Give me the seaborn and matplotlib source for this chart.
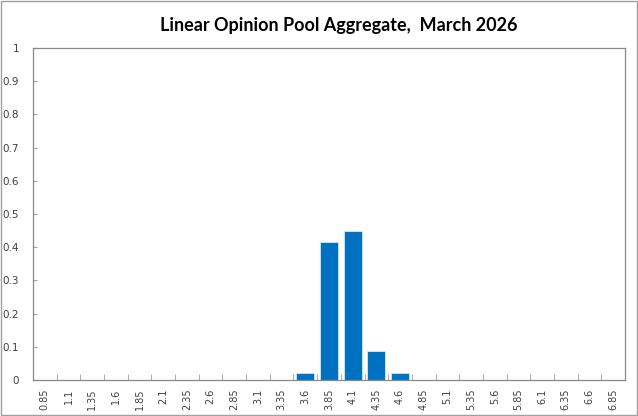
import numpy as np
import pandas as pd
import matplotlib
matplotlib.use("Agg")
import matplotlib.pyplot as plt
import seaborn as sns

# bin centres and pooled probabilities
bins = [0.85, 1.1, 1.35, 1.6, 1.85, 2.1, 2.35, 2.6, 2.85, 3.1, 3.35, 3.6,
        3.85, 4.1, 4.35, 4.6, 4.85, 5.1, 5.35, 5.6, 5.85, 6.1, 6.35, 6.6, 6.85]
probs = [0, 0, 0, 0, 0, 0, 0, 0, 0, 0, 0, 0.02,
         0.415, 0.448, 0.087, 0.02, 0, 0, 0, 0, 0, 0, 0, 0, 0]
labels = [f"{b:g}" for b in bins]
y_ticks = [0, 0.1, 0.2, 0.3, 0.4, 0.5, 0.6, 0.7, 0.8, 0.9, 1]

sns.set_style("white")
plt.rcParams['font.family'] = ['DejaVu Sans']

df = pd.DataFrame({'bin': labels, 'prob': probs})

fig = plt.figure(figsize=(6.38, 4.16), dpi=100)
ax = fig.add_axes([33 / 638, 1 - 380 / 416, (625 - 33) / 638, (380 - 48) / 416])

sns.barplot(data=df, x='bin', y='prob', order=labels, color='#0070C0',
            width=0.76, edgecolor='#d9e6f2', linewidth=0.6, saturation=1, ax=ax)

ax.set_xlim(-0.5, len(labels) - 0.5)
ax.set_ylim(0, 1)
ax.set_xlabel('')
ax.set_ylabel('')

ax.set_yticks(y_ticks)
ax.set_yticklabels([f"{t:g}" for t in y_ticks], fontsize=7.5, color='#404040')
ax.tick_params(axis='y', direction='in', length=3, color='#a0a0a0', pad=10, left=True)

ax.set_xticks(range(len(labels)))
ax.set_xticklabels(labels, rotation=90, fontsize=7, color='#404040')
ax.tick_params(axis='x', which='major', length=0, pad=6)
ax.set_xticks(np.arange(0.5, len(labels) - 0.5), minor=True)
ax.tick_params(axis='x', which='minor', direction='in', length=4, color='#a0a0a0', bottom=True)

for s in ax.spines.values():
    s.set_color('#888888')
    s.set_linewidth(0.9)

fig.text(0.531, 1 - 25 / 416, 'Linear Opinion Pool Aggregate,  March 2026',
         ha='center', va='center', fontsize=13, fontweight='bold', color='black',
         family=['Lato', 'DejaVu Sans'])

# outer chart border
fig.patches.append(plt.Rectangle((0.002, 0.002), 0.996, 0.996, transform=fig.transFigure,
                                 fill=False, edgecolor='#a0a0a0', linewidth=1))

fig.savefig('out.png', dpi=100)
